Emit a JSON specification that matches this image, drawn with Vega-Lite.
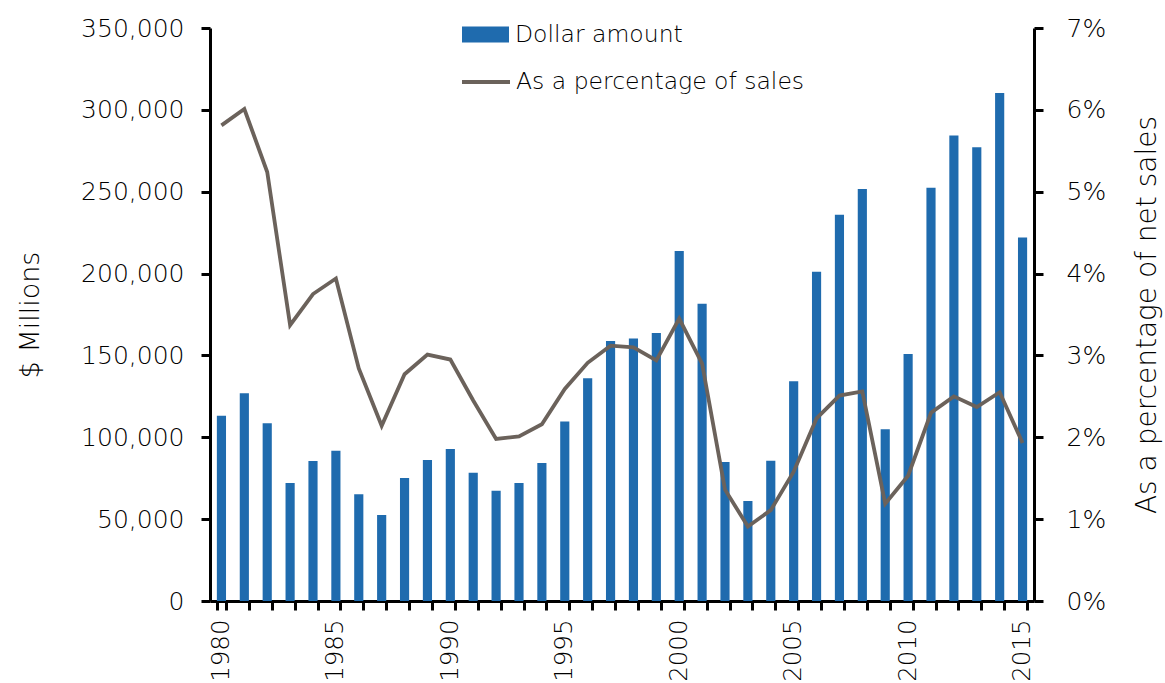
{
  "$schema": "https://vega.github.io/schema/vega-lite/v6.json",
  "width": 824,
  "height": 573,
  "autosize": {"type": "none"},
  "padding": {"left": 210, "top": 28, "right": 131, "bottom": 82},
  "background": "white",
  "config": {
    "font": "DejaVu Sans",
    "view": {"stroke": null},
    "axis": {
      "domainColor": "black",
      "domainWidth": 3,
      "tickColor": "black",
      "tickWidth": 3,
      "tickSize": 9,
      "labelColor": "#000",
      "titleColor": "#000",
      "labelFontSize": 25,
      "labelFontWeight": 200,
      "titleFontSize": 27,
      "titleFontWeight": 200,
      "grid": false
    },
    "legend": {"padding": 0, "labelFontSize": 23.5, "labelFontWeight": 200, "labelColor": "#000", "labelOffset": 6, "labelLimit": 0}
  },
  "data": {
    "values": [
      {"year": 1980, "amount": 113200, "pct": 0.0581},
      {"year": 1981, "amount": 126900, "pct": 0.0601},
      {"year": 1982, "amount": 108500, "pct": 0.0524},
      {"year": 1983, "amount": 72100, "pct": 0.0337},
      {"year": 1984, "amount": 85500, "pct": 0.0375},
      {"year": 1985, "amount": 91800, "pct": 0.0394},
      {"year": 1986, "amount": 65200, "pct": 0.0284},
      {"year": 1987, "amount": 52500, "pct": 0.0214},
      {"year": 1988, "amount": 75100, "pct": 0.0277},
      {"year": 1989, "amount": 86100, "pct": 0.0301},
      {"year": 1990, "amount": 92800, "pct": 0.0295},
      {"year": 1991, "amount": 78400, "pct": 0.0245},
      {"year": 1992, "amount": 67400, "pct": 0.0198},
      {"year": 1993, "amount": 72100, "pct": 0.0201},
      {"year": 1994, "amount": 84300, "pct": 0.0216},
      {"year": 1995, "amount": 109700, "pct": 0.0259},
      {"year": 1996, "amount": 136000, "pct": 0.0291},
      {"year": 1997, "amount": 158800, "pct": 0.0312},
      {"year": 1998, "amount": 160400, "pct": 0.0310},
      {"year": 1999, "amount": 163700, "pct": 0.0294},
      {"year": 2000, "amount": 213800, "pct": 0.0345},
      {"year": 2001, "amount": 181600, "pct": 0.0290},
      {"year": 2002, "amount": 84900, "pct": 0.0136},
      {"year": 2003, "amount": 61100, "pct": 0.0091},
      {"year": 2004, "amount": 85700, "pct": 0.0111},
      {"year": 2005, "amount": 134200, "pct": 0.0158},
      {"year": 2006, "amount": 201100, "pct": 0.0223},
      {"year": 2007, "amount": 236000, "pct": 0.0251},
      {"year": 2008, "amount": 251600, "pct": 0.0256},
      {"year": 2009, "amount": 104900, "pct": 0.0119},
      {"year": 2010, "amount": 150900, "pct": 0.0153},
      {"year": 2011, "amount": 252400, "pct": 0.0230},
      {"year": 2012, "amount": 284400, "pct": 0.0250},
      {"year": 2013, "amount": 277100, "pct": 0.0237},
      {"year": 2014, "amount": 310300, "pct": 0.0255},
      {"year": 2015, "amount": 222100, "pct": 0.0193}
    ]
  },
  "encoding": {
    "x": {
      "field": "year",
      "type": "ordinal",
      "scale": {"paddingInner": 0.6, "paddingOuter": 0.3},
      "axis": {
        "title": null,
        "tickBand": "extent",
        "labelAngle": -90,
        "labelAlign": "right",
        "labelBaseline": "middle",
        "labelPadding": 9,
        "labelFontSize": 24.5,
        "labelExpr": "datum.value % 5 === 0 ? datum.label : ''"
      }
    }
  },
  "layer": [
    {
      "mark": {"type": "bar"},
      "encoding": {
        "y": {
          "field": "amount",
          "type": "quantitative",
          "scale": {"domain": [0, 350000], "nice": false},
          "axis": {
            "title": "$ Millions",
            "format": ",d",
            "values": [0, 50000, 100000, 150000, 200000, 250000, 300000, 350000],
            "labelPadding": 17,
            "titlePadding": 36
          }
        },
        "fill": {
          "datum": "Dollar amount",
          "type": "nominal",
          "scale": {"range": ["#1f6bae"]},
          "legend": {
            "title": null,
            "orient": "none",
            "legendX": 252,
            "legendY": -17,
            "symbolType": "M-1,-0.34H1V0.34H-1Z",
            "symbolSize": 2209,
            "symbolStrokeWidth": 0,
            "symbolOpacity": 1
          }
        }
      }
    },
    {
      "mark": {"type": "line", "strokeWidth": 3.8},
      "encoding": {
        "y": {
          "field": "pct",
          "type": "quantitative",
          "scale": {"domain": [0, 0.07], "nice": false},
          "axis": {
            "orient": "right",
            "title": "As a percentage of net sales",
            "titleAngle": 270,
            "titleBaseline": "top",
            "titleFontSize": 28,
            "format": ".0%",
            "values": [0, 0.01, 0.02, 0.03, 0.04, 0.05, 0.06, 0.07],
            "labelPadding": 23,
            "titlePadding": 28
          }
        },
        "stroke": {
          "datum": "As a percentage of sales",
          "type": "nominal",
          "scale": {"range": ["#6b625b"]},
          "legend": {
            "title": null,
            "orient": "none",
            "legendX": 250,
            "legendY": 28,
            "symbolType": "stroke",
            "symbolSize": 2304,
            "symbolStrokeWidth": 3.8,
            "labelOffset": 4
          }
        }
      }
    }
  ],
  "resolve": {"scale": {"y": "independent"}}
}
